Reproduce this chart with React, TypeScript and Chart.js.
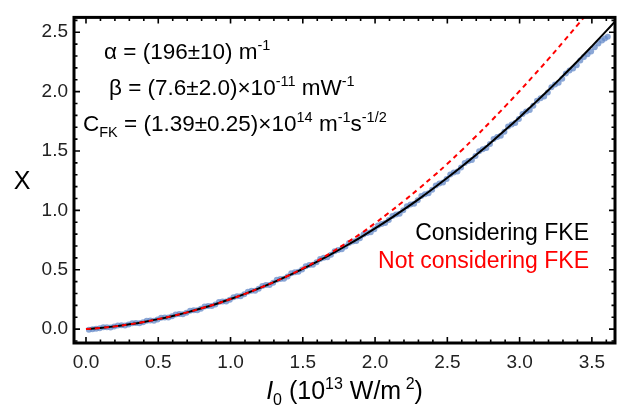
import React, { useEffect, useRef } from "react";
import { Chart, registerables } from "chart.js";

Chart.register(...registerables);

// ---------- data ----------
const fitI = [0, 0.1, 0.2, 0.3, 0.4, 0.5, 0.6, 0.7, 0.8, 0.9, 1.0, 1.1, 1.2, 1.3, 1.4, 1.5, 1.6, 1.7, 1.8, 1.9, 2.0, 2.1, 2.2, 2.3, 2.4, 2.5, 2.6, 2.7, 2.8, 2.9, 3.0, 3.1, 3.2, 3.3, 3.4, 3.5, 3.6, 3.7];
const fitConsideringFKE = [0, 0.010, 0.023, 0.040, 0.060, 0.084, 0.111, 0.141, 0.175, 0.212, 0.253, 0.297, 0.345, 0.396, 0.450, 0.508, 0.569, 0.634, 0.702, 0.773, 0.848, 0.926, 1.008, 1.093, 1.182, 1.274, 1.369, 1.468, 1.570, 1.676, 1.785, 1.898, 2.013, 2.133, 2.256, 2.382, 2.511, 2.645];
const fitNotConsideringFKE = [0, 0.010, 0.023, 0.040, 0.060, 0.084, 0.111, 0.141, 0.175, 0.212, 0.253, 0.297, 0.345, 0.396, 0.450, 0.511, 0.575, 0.647, 0.724, 0.804, 0.892, 0.984, 1.080, 1.180, 1.284, 1.392, 1.507, 1.626, 1.749, 1.876, 2.005, 2.139, 2.275, 2.416, 2.560, 2.707, 2.856, 3.008];

const measuredI = [0.02, 0.07, 0.12, 0.17, 0.22, 0.27, 0.32, 0.37, 0.42, 0.47, 0.52, 0.57, 0.62, 0.67, 0.72, 0.77, 0.82, 0.87, 0.92, 0.97, 1.02, 1.07, 1.12, 1.17, 1.22, 1.27, 1.32, 1.37, 1.42, 1.47, 1.52, 1.57, 1.62, 1.67, 1.72, 1.77, 1.82, 1.87, 1.92, 1.97, 2.02, 2.07, 2.12, 2.17, 2.22, 2.27, 2.32, 2.37, 2.42, 2.47, 2.52, 2.57, 2.62, 2.67, 2.72, 2.77, 2.82, 2.87, 2.92, 2.97, 3.02, 3.07, 3.12, 3.17, 3.22, 3.27, 3.32, 3.37, 3.42, 3.47, 3.52, 3.57, 3.61];
const measuredX = [-0.006, 0.003, 0.016, 0.014, 0.031, 0.030, 0.050, 0.049, 0.071, 0.071, 0.095, 0.097, 0.124, 0.126, 0.155, 0.158, 0.190, 0.194, 0.228, 0.233, 0.269, 0.277, 0.315, 0.322, 0.364, 0.372, 0.415, 0.425, 0.470, 0.482, 0.529, 0.542, 0.591, 0.605, 0.656, 0.672, 0.725, 0.742, 0.797, 0.816, 0.873, 0.893, 0.952, 0.972, 1.035, 1.056, 1.121, 1.144, 1.210, 1.234, 1.303, 1.328, 1.399, 1.425, 1.497, 1.525, 1.600, 1.628, 1.706, 1.735, 1.812, 1.846, 1.923, 1.958, 2.036, 2.075, 2.152, 2.194, 2.262, 2.314, 2.374, 2.430, 2.462];

const measuredI2 = [0.045, 0.095, 0.145, 0.195, 0.245, 0.295, 0.345, 0.395, 0.445, 0.495, 0.545, 0.595, 0.645, 0.695, 0.745, 0.795, 0.845, 0.895, 0.945, 0.995, 1.045, 1.095, 1.145, 1.195, 1.245, 1.295, 1.345, 1.395, 1.445, 1.495, 1.545, 1.595, 1.645, 1.695, 1.745, 1.795, 1.845, 1.895, 1.945, 1.995, 2.045, 2.095, 2.145, 2.195, 2.245, 2.295, 2.345, 2.395, 2.445, 2.495, 2.545, 2.595, 2.645, 2.695, 2.745, 2.795, 2.845, 2.895, 2.945, 2.995, 3.045, 3.095, 3.145, 3.195, 3.245, 3.295, 3.345, 3.395, 3.445, 3.495, 3.545, 3.590];
const measuredX2 = [-0.001, 0.008, 0.016, 0.021, 0.032, 0.038, 0.051, 0.058, 0.072, 0.081, 0.098, 0.108, 0.127, 0.138, 0.159, 0.171, 0.195, 0.208, 0.233, 0.248, 0.276, 0.293, 0.322, 0.340, 0.371, 0.390, 0.423, 0.444, 0.479, 0.502, 0.539, 0.563, 0.601, 0.627, 0.667, 0.695, 0.737, 0.766, 0.810, 0.841, 0.886, 0.919, 0.966, 1.000, 1.049, 1.085, 1.136, 1.173, 1.226, 1.265, 1.319, 1.360, 1.416, 1.457, 1.515, 1.559, 1.618, 1.663, 1.724, 1.769, 1.833, 1.880, 1.945, 1.992, 2.060, 2.108, 2.178, 2.222, 2.292, 2.338, 2.406, 2.448];

const xTickValues = [0, 0.5, 1.0, 1.5, 2.0, 2.5, 3.0, 3.5];
const yTickValues = [0, 0.5, 1.0, 1.5, 2.0, 2.5];

const FONT = "'Liberation Sans', Arial, sans-serif";

type Seg = { t: string; size: number; dy?: number; italic?: boolean; color?: string };

function drawRich(ctx: CanvasRenderingContext2D, x: number, y: number, segs: Seg[], align: "left" | "right" | "center", color: string) {
  const fontOf = (s: Seg) => `${s.italic ? "italic " : ""}${s.size}px ${FONT}`;
  let total = 0;
  for (const s of segs) {
    ctx.font = fontOf(s);
    total += ctx.measureText(s.t).width;
  }
  let cx = align === "left" ? x : align === "right" ? x - total : x - total / 2;
  ctx.textAlign = "left";
  ctx.textBaseline = "alphabetic";
  for (const s of segs) {
    ctx.font = fontOf(s);
    ctx.fillStyle = s.color || color;
    ctx.fillText(s.t, cx, y + (s.dy || 0));
    cx += ctx.measureText(s.t).width;
  }
}

const decorPlugin = {
  id: "decor",
  afterDatasetsDraw(chart: any) {
    const { ctx, chartArea: a, scales } = chart;
    const xs = scales.x;
    const ys = scales.y;
    ctx.save();
    ctx.strokeStyle = "#000";
    ctx.lineWidth = 1.6;
    const minor = 0.1;
    for (let k = Math.ceil(xs.min / minor); k * minor <= xs.max + 1e-9; k++) {
      const v = k * minor;
      const major = Math.abs(v / 0.5 - Math.round(v / 0.5)) < 1e-6;
      const len = major ? 6 : 3.5;
      const px = xs.getPixelForValue(v);
      ctx.beginPath();
      ctx.moveTo(px, a.bottom);
      ctx.lineTo(px, a.bottom - len);
      ctx.moveTo(px, a.top);
      ctx.lineTo(px, a.top + len);
      ctx.stroke();
    }
    for (let k = Math.ceil(ys.min / minor); k * minor <= ys.max + 1e-9; k++) {
      const v = k * minor;
      const major = Math.abs(v / 0.5 - Math.round(v / 0.5)) < 1e-6;
      const len = major ? 6 : 3.5;
      const py = ys.getPixelForValue(v);
      ctx.beginPath();
      ctx.moveTo(a.left, py);
      ctx.lineTo(a.left + len, py);
      ctx.moveTo(a.right, py);
      ctx.lineTo(a.right - len, py);
      ctx.stroke();
    }
    ctx.lineWidth = 3;
    ctx.strokeRect(a.left, a.top, a.right - a.left, a.bottom - a.top);

    const big = 22.5;
    const sm = 14.5;
    drawRich(ctx, 104, 59, [
      { t: "α = (196±10) m", size: big },
      { t: "-1", size: sm, dy: -9 },
    ], "left", "#000");
    drawRich(ctx, 109, 95, [
      { t: "β = (7.6±2.0)×10", size: big },
      { t: "-11", size: sm, dy: -9 },
      { t: " mW", size: big },
      { t: "-1", size: sm, dy: -9 },
    ], "left", "#000");
    drawRich(ctx, 83, 131, [
      { t: "C", size: big },
      { t: "FK", size: sm, dy: 6 },
      { t: " = (1.39±0.25)×10", size: big },
      { t: "14", size: sm, dy: -9 },
      { t: " m", size: big },
      { t: "-1", size: sm, dy: -9 },
      { t: "s", size: big },
      { t: "-1/2", size: sm, dy: -9 },
    ], "left", "#000");

    drawRich(ctx, 589, 240, [{ t: "Considering FKE", size: 23 }], "right", "#000");
    drawRich(ctx, 589, 268, [{ t: "Not considering FKE", size: 23 }], "right", "#ff0000");

    const cxMid = (a.left + a.right) / 2;
    drawRich(ctx, cxMid, 399, [
      { t: "I", size: 25, italic: true },
      { t: "0", size: 16, dy: 6 },
      { t: " (10", size: 25 },
      { t: "13", size: 16, dy: -10 },
      { t: " W/m", size: 25 },
      { t: " 2", size: 16, dy: -10 },
      { t: ")", size: 25 },
    ], "center", "#000");
    drawRich(ctx, 22, (a.top + a.bottom) / 2 + 9, [{ t: "X", size: 25 }], "center", "#000");
    ctx.restore();
  },
};

export default function App() {
  const ref = useRef<HTMLCanvasElement | null>(null);
  useEffect(() => {
    if (!ref.current) return;
    const points = [
      ...measuredI.map((x, i) => ({ x, y: measuredX[i] })),
      ...measuredI2.map((x, i) => ({ x, y: measuredX2[i] })),
    ].sort((p, q) => p.x - q.x);
    const chart = new Chart(ref.current, {
      type: "scatter",
      data: {
        datasets: [
          {
            label: "Not considering FKE",
            type: "line",
            data: fitI.map((x, i) => ({ x, y: fitNotConsideringFKE[i] })),
            borderColor: "#ff0000",
            borderWidth: 2,
            borderDash: [5, 4],
            pointRadius: 0,
            tension: 0.4,
            fill: false,
            order: 1,
          },
          {
            label: "Considering FKE",
            type: "line",
            data: fitI.map((x, i) => ({ x, y: fitConsideringFKE[i] })),
            borderColor: "#000000",
            borderWidth: 2,
            pointRadius: 0,
            tension: 0.4,
            fill: false,
            order: 2,
          },
          {
            label: "Measured",
            data: points,
            backgroundColor: "rgba(100,138,200,0.75)",
            borderWidth: 0,
            pointRadius: 3,
            order: 3,
          },
        ],
      } as any,
      options: {
        animation: false,
        responsive: false,
        layout: { padding: { top: 13, right: 4, left: 0, bottom: 0 } },
        plugins: { legend: { display: false }, tooltip: { enabled: false } },
        scales: {
          x: {
            type: "linear",
            min: -0.083,
            max: 3.66,
            border: { display: false },
            grid: { display: false, drawTicks: false },
            afterFit: (s: any) => { s.height = 67; },
            ticks: {
              stepSize: 0.5,
              includeBounds: false,
              padding: 8,
              color: "#222",
              font: { family: FONT, size: 19 },
              maxRotation: 0,
              callback: (v: any) => (xTickValues.some((t) => Math.abs(t - v) < 1e-6) ? Number(v).toFixed(1) : ""),
            },
          },
          y: {
            type: "linear",
            min: -0.117,
            max: 2.625,
            border: { display: false },
            grid: { display: false, drawTicks: false },
            afterFit: (s: any) => { s.width = 74; },
            ticks: {
              stepSize: 0.5,
              includeBounds: false,
              padding: 6,
              color: "#222",
              font: { family: FONT, size: 19 },
              callback: (v: any) => (yTickValues.some((t) => Math.abs(t - v) < 1e-6) ? Number(v).toFixed(1) : ""),
            },
          },
        },
      } as any,
      plugins: [decorPlugin],
    });
    return () => chart.destroy();
  }, []);
  return (
    <div style={{ position: "fixed", left: 0, top: 0, width: 619, height: 410, background: "#fff" }}>
      <canvas ref={ref} width={619} height={410} style={{ display: "block", width: 619, height: 410 }} />
    </div>
  );
}
